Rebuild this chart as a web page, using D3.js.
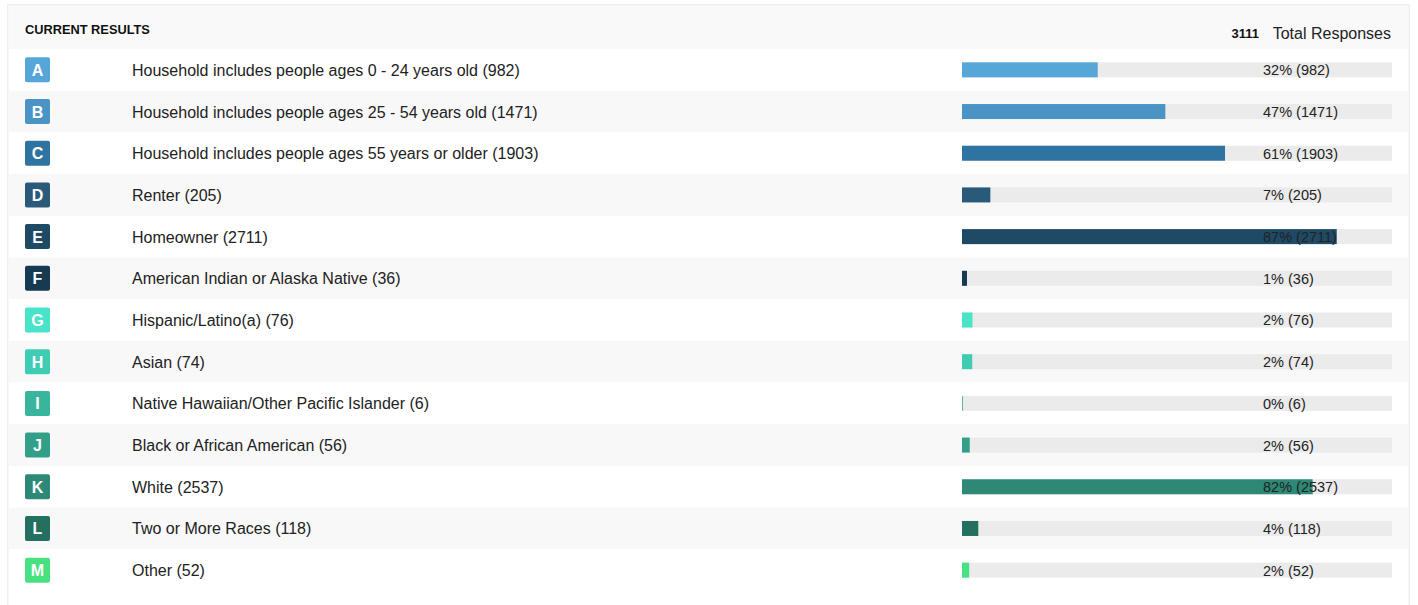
<!DOCTYPE html>
<html>
<head>
<meta charset="utf-8">
<script src="https://cdn.jsdelivr.net/npm/d3@7"></script>
<style>
  html, body { margin: 0; padding: 0; background: #ffffff; }
  svg { display: block; font-family: "Liberation Sans", Arial, Helvetica, sans-serif; }
</style>
</head>
<body>
<svg id="chart" width="1418" height="605"></svg>
<script>
// Survey answers, response counts and badge colours
const letters = ["A","B","C","D","E","F","G","H","I","J","K","L","M"];
const answers = [
  "Household includes people ages 0 - 24 years old",
  "Household includes people ages 25 - 54 years old",
  "Household includes people ages 55 years or older",
  "Renter",
  "Homeowner",
  "American Indian or Alaska Native",
  "Hispanic/Latino(a)",
  "Asian",
  "Native Hawaiian/Other Pacific Islander",
  "Black or African American",
  "White",
  "Two or More Races",
  "Other"
];
const counts = [982, 1471, 1903, 205, 2711, 36, 76, 74, 6, 56, 2537, 118, 52];
const colors = ["#56a6d8","#4a94c5","#2f73a0","#2a5a7a","#1f4a66","#163a52",
                "#48e3c9","#3ecdb3","#39b59d","#339f89","#2d8876","#246f5f","#47e27f"];
const totalResponses = 3111;

const svg = d3.select("#chart");
const H = 605;

// panel frame
svg.append("rect").attr("x", 7).attr("y", 4).attr("width", 1403).attr("height", H)
  .attr("fill", "#eeeeee");
svg.append("rect").attr("x", 8.5).attr("y", 5.5).attr("width", 1400).attr("height", H)
  .attr("fill", "#ffffff");

// header band
svg.append("rect").attr("x", 9).attr("y", 6).attr("width", 1399).attr("height", 43)
  .attr("fill", "#f9f9f9");
svg.append("text").attr("x", 25).attr("y", 34)
  .attr("font-size", 12.8).attr("font-weight", "bold").attr("fill", "#111")
  .text("CURRENT RESULTS");
svg.append("text").attr("x", 1391).attr("y", 38.5)
  .attr("text-anchor", "end").attr("font-size", 16).attr("fill", "#222")
  .text("Total Responses");
svg.append("text").attr("x", 1259).attr("y", 38)
  .attr("text-anchor", "end").attr("font-size", 13).attr("font-weight", "bold").attr("fill", "#111")
  .text(totalResponses);

// row layout
const y = d3.scaleBand().domain(letters).range([49, 591]).padding(0);
const x = d3.scaleLinear().domain([0, totalResponses]).range([962, 1392]);

const rows = svg.append("g").selectAll("g")
  .data(letters.map((l, i) => ({ letter: l, answer: answers[i], count: counts[i], color: colors[i], i })))
  .join("g")
  .attr("transform", d => `translate(0,${y(d.letter)})`);

const bw = y.bandwidth();

rows.append("rect")
  .attr("x", 9).attr("y", 0).attr("width", 1399).attr("height", bw)
  .attr("fill", d => d.i % 2 === 1 ? "#f8f8f8" : "#ffffff");

// letter badge
rows.append("rect")
  .attr("x", 25).attr("y", bw / 2 - 12.5).attr("width", 25).attr("height", 25)
  .attr("rx", 2).attr("fill", d => d.color);
rows.append("text")
  .attr("x", 37.5).attr("y", bw / 2 + 6)
  .attr("text-anchor", "middle").attr("font-size", 16).attr("font-weight", "bold")
  .attr("fill", "#ffffff")
  .text(d => d.letter);

// answer label
rows.append("text")
  .attr("x", 132).attr("y", bw / 2 + 6)
  .attr("font-size", 16).attr("fill", "#222")
  .text(d => `${d.answer} (${d.count})`);

// bar track and value bar
rows.append("rect")
  .attr("x", x(0)).attr("y", bw / 2 - 7.5)
  .attr("width", x(totalResponses) - x(0)).attr("height", 15)
  .attr("fill", "#ebebeb");
rows.append("rect")
  .attr("x", x(0)).attr("y", bw / 2 - 7.5)
  .attr("width", d => x(d.count) - x(0)).attr("height", 15)
  .attr("fill", d => d.color);

// percentage label
rows.append("text")
  .attr("x", 1263).attr("y", bw / 2 + 5.5)
  .attr("font-size", 14.5).attr("fill", "#222")
  .text(d => `${Math.round(d.count / totalResponses * 100)}% (${d.count})`);
</script>
</body>
</html>
